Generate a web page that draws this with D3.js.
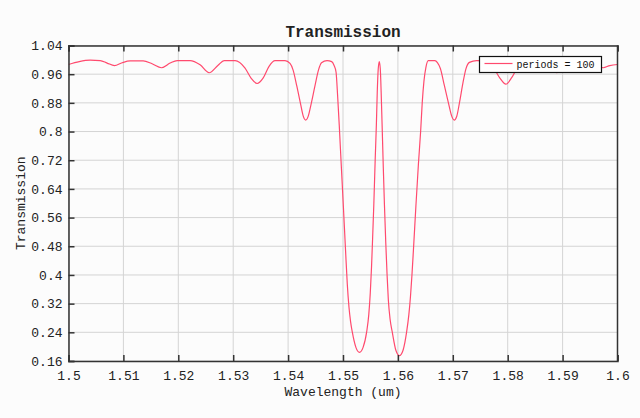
<!DOCTYPE html>
<html>
<head>
<meta charset="utf-8">
<script src="https://cdn.jsdelivr.net/npm/d3@7"></script>
<style>
    body { margin: 0; background: #fcfcfc; }
    svg { display: block; }
    .tick-label { font-family: "Liberation Mono", "DejaVu Sans Mono", monospace; font-size: 13px; fill: #222; }
    .axis-label { font-family: "Liberation Mono", "DejaVu Sans Mono", monospace; font-size: 13px; fill: #222; }
    .title { font-family: "Liberation Mono", "DejaVu Sans Mono", monospace; font-size: 16px; font-weight: bold; fill: #222; }
    .legend-text { font-family: "Liberation Mono", "DejaVu Sans Mono", monospace; font-size: 10px; fill: #111; }
</style>
</head>
<body>
<div id="chart"></div>
<script>

// values
var wavelength = [
    1.5, 1.50195, 1.50395, 1.50577, 1.50704, 1.50837, 1.50977, 1.51123, 1.5136, 1.51523,
    1.51693, 1.51851, 1.51979, 1.52215, 1.52397, 1.52561, 1.52725, 1.52834, 1.53034, 1.53216,
    1.53325, 1.53435, 1.53544, 1.53653, 1.53762, 1.53944, 1.54035, 1.5409, 1.54157, 1.54226,
    1.54276, 1.54321, 1.54367, 1.54418, 1.5449, 1.54554, 1.54609, 1.54709, 1.54794, 1.54836,
    1.54873, 1.54902, 1.54931, 1.54967, 1.55007, 1.55046, 1.55078, 1.55109, 1.55138, 1.55169,
    1.55235, 1.553, 1.55366, 1.55431, 1.5547, 1.55497, 1.55519, 1.55539, 1.55561, 1.55586,
    1.55608, 1.55624, 1.55642, 1.55661, 1.55679, 1.55695, 1.55712, 1.55734, 1.55755, 1.55779,
    1.55803, 1.55826, 1.55859, 1.55897, 1.55963, 1.56028, 1.56094, 1.56159, 1.562, 1.56229,
    1.56256, 1.56283, 1.56329, 1.56374, 1.56414, 1.56443, 1.56474, 1.56511, 1.56553, 1.56675,
    1.5672, 1.56775, 1.56844, 1.5692, 1.5698, 1.57026, 1.57071, 1.57121, 1.57184, 1.57239,
    1.57303, 1.57434, 1.57585, 1.57712, 1.57858, 1.57967, 1.58076, 1.58203, 1.58349, 1.58531,
    1.58677, 1.58804, 1.58895, 1.58986, 1.59114, 1.59259, 1.59478, 1.59605, 1.59738, 1.5986,
    1.6
];

var transmission = [
    0.987, 0.995, 0.999, 0.998, 0.991, 0.984, 0.992, 0.997, 0.997, 0.989,
    0.978, 0.991, 0.998, 0.998, 0.986, 0.964, 0.985, 0.998, 0.998, 0.977,
    0.949, 0.934, 0.949, 0.982, 0.998, 0.998, 0.990, 0.972, 0.928, 0.878,
    0.843, 0.832, 0.843, 0.876, 0.928, 0.972, 0.992, 0.998, 0.995, 0.985,
    0.966, 0.900, 0.820, 0.710, 0.590, 0.470, 0.375, 0.310, 0.270, 0.241,
    0.198, 0.184, 0.198, 0.241, 0.290, 0.350, 0.420, 0.500, 0.595, 0.720,
    0.820, 0.910, 0.975, 0.995, 0.975, 0.910, 0.820, 0.700, 0.595, 0.490,
    0.400, 0.330, 0.275, 0.241, 0.190, 0.175, 0.190, 0.241, 0.290, 0.340,
    0.400, 0.470, 0.595, 0.710, 0.800, 0.880, 0.940, 0.980, 0.998, 0.998,
    0.992, 0.975, 0.930, 0.880, 0.843, 0.832, 0.842, 0.880, 0.935, 0.975,
    0.993, 0.998, 0.997, 0.985, 0.949, 0.932, 0.951, 0.985, 0.998, 0.998,
    0.988, 0.975, 0.964, 0.975, 0.992, 0.998, 0.997, 0.988, 0.978, 0.984,
    0.987
];

var xTicks = [1.5, 1.51, 1.52, 1.53, 1.54, 1.55, 1.56, 1.57, 1.58, 1.59, 1.6];
var yTicks = [0.16, 0.24, 0.32, 0.4, 0.48, 0.56, 0.64, 0.72, 0.8, 0.88, 0.96, 1.04];
var seriesName = "periods = 100";
var lineColour = "#ff4a6e";

var totalWidth = 640, totalHeight = 418;
var margin = {top: 45.5, right: 22.5, bottom: 57, left: 68.5};
var width = totalWidth - margin.left - margin.right,
    height = totalHeight - margin.top - margin.bottom;

var svg = d3.select("#chart").append("svg")
    .attr("width", totalWidth)
    .attr("height", totalHeight);

svg.append("rect")
    .attr("width", totalWidth)
    .attr("height", totalHeight)
    .style("fill", "#fcfcfc");

var g = svg.append("g")
    .attr("transform", "translate(" + margin.left + "," + margin.top + ")");

var x = d3.scaleLinear().domain([1.5, 1.6]).range([0, width]);
var y = d3.scaleLinear().domain([0.16, 1.04]).range([height, 0]);

// grid
g.append("g").selectAll("line")
    .data(xTicks)
    .enter().append("line")
    .attr("x1", x).attr("x2", x)
    .attr("y1", 0).attr("y2", height)
    .style("stroke", "#d4d4d4");

g.append("g").selectAll("line")
    .data(yTicks)
    .enter().append("line")
    .attr("y1", y).attr("y2", y)
    .attr("x1", 0).attr("x2", width)
    .style("stroke", "#d4d4d4");

// the curve
g.append("clipPath").attr("id", "plot-clip")
    .append("rect").attr("width", width).attr("height", height);

var data = wavelength.map(function(w, i) { return {w: w, t: transmission[i]}; });

var line = d3.line()
    .x(function(d) { return x(d.w); })
    .y(function(d) { return y(d.t); })
    .curve(d3.curveMonotoneX);

g.append("path")
    .datum(data)
    .attr("clip-path", "url(#plot-clip)")
    .attr("d", line)
    .style("fill", "none")
    .style("stroke", lineColour)
    .style("stroke-width", 1.2);

// axes: ticks pointing inwards, labels outside
var xAxis = d3.axisBottom(x).tickValues(xTicks).tickSize(-6).tickPadding(10)
    .tickFormat(function(d) { return String(+d.toFixed(2)); });
var xAxisTop = d3.axisTop(x).tickValues(xTicks).tickSize(-6).tickFormat("");
var yAxis = d3.axisLeft(y).tickValues(yTicks).tickSize(-6).tickPadding(6)
    .tickFormat(function(d) { return String(+d.toFixed(2)); });

function styleAxis(sel) {
    sel.select(".domain").style("stroke", "#333").style("stroke-width", 1.5);
    sel.selectAll(".tick line").style("stroke", "#333").style("stroke-width", 1.5);
    sel.selectAll(".tick text").attr("class", "tick-label").attr("fill", null);
}

g.append("g")
    .attr("transform", "translate(0," + height + ")")
    .call(xAxis)
    .call(styleAxis);

g.append("g")
    .call(xAxisTop)
    .call(styleAxis);

g.append("g")
    .call(yAxis)
    .call(styleAxis);

g.append("line")
    .attr("x1", width).attr("x2", width)
    .attr("y1", 0).attr("y2", height)
    .style("stroke", "#333").style("stroke-width", 1.5);

// title and axis labels
svg.append("text")
    .attr("class", "title")
    .attr("x", margin.left + width / 2)
    .attr("y", 37)
    .style("text-anchor", "middle")
    .text("Transmission");

svg.append("text")
    .attr("class", "axis-label")
    .attr("x", margin.left + width / 2)
    .attr("y", 396)
    .style("text-anchor", "middle")
    .text("Wavelength (um)");

svg.append("text")
    .attr("class", "axis-label")
    .attr("transform", "translate(25," + (margin.top + height / 2) + ") rotate(-90)")
    .style("text-anchor", "middle")
    .text("Transmission");

// legend
var legend = svg.append("g").attr("transform", "translate(479.5,56.5)");

legend.append("rect")
    .attr("width", 122)
    .attr("height", 16)
    .style("fill", "#ffffff")
    .style("stroke", "#111")
    .style("stroke-width", 1.2);

legend.append("line")
    .attr("x1", 5).attr("x2", 33)
    .attr("y1", 7).attr("y2", 7)
    .style("stroke", lineColour)
    .style("stroke-width", 1.2);

legend.append("text")
    .attr("class", "legend-text")
    .attr("x", 37)
    .attr("y", 11.5)
    .text(seriesName);

</script>
</body>
</html>
